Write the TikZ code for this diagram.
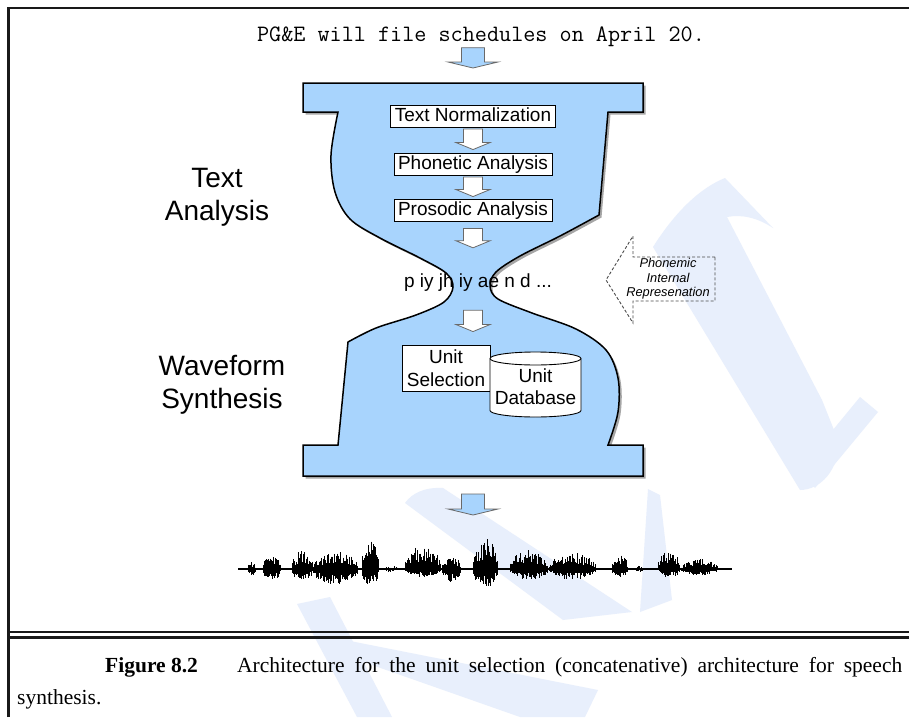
\documentclass[tikz,border=0pt]{standalone}
\usepackage{fontspec}
\setmainfont{Liberation Serif}
\setsansfont{Liberation Sans}
\usetikzlibrary{calc,shadows}
\definecolor{hgblue}{RGB}{168,212,253}
\definecolor{wmblue}{RGB}{232,239,252}
\definecolor{arrgray}{RGB}{105,105,105}
% block arrow: style, start, end, shaft half width, head half width, head length
\newcommand{\blockarr}[6]{%
  \path[#1] let \p1=(#2), \p2=(#3) in
    ({\x1-#4},\y1) -- ({\x1+#4},\y1) -- ({\x1+#4},{\y2+#6}) -- ({\x1+#5},{\y2+#6})
    -- (\x1,\y2) -- ({\x1-#5},{\y2+#6}) -- ({\x1-#4},{\y2+#6}) -- cycle;}
\tikzset{
  wm/.style={fill=wmblue, draw=none},
  bluearr/.style={fill=hgblue, draw=arrgray, line width=0.8},
  whitearr/.style={fill=white, draw=arrgray, line width=0.8},
  proc/.style={draw=black, line width=0.9, fill=white, font=\sffamily\fontsize{19}{21}\selectfont,
    inner xsep=4pt, inner ysep=2pt, text height=14pt, text depth=4pt},
  twoline/.style={inner sep=0pt, align=center, font=\sffamily\fontsize{19}{22.5}\selectfont},
  biglabel/.style={inner sep=0pt, align=center, font=\sffamily\fontsize{28}{33}\selectfont},
  wavestroke/.style={line width=0.95, draw=black},
  frameline/.style={line width=2.3, draw=black!90},
  captext/.style={anchor=base west, inner sep=0pt, font=\fontsize{21.5}{25}\selectfont},
}
\begin{document}
\begin{tikzpicture}[x=1pt,y=-1pt]
\useasboundingbox (0,0) rectangle (909,717);
\fill[white] (0,0) rectangle (909,717);
% watermark
\fill[wm] (653,247) .. controls (675,212) and (700,188) .. (725,178) -- (773,228)
  .. controls (758,218) and (742,214) .. (727,217) -- (822,400) -- (838,440)
  .. controls (840,470) and (820,490) .. (800,490) -- cycle;
\fill[wm] (800,470) -- (860,397) -- (878,412) -- (815,488) -- cycle;
\fill[wm] (405,503) .. controls (412,493) and (425,487) .. (443,488) -- (632,612) -- (563,620) -- cycle;
\fill[wm] (297,604) -- (330,597) -- (392,717) -- (357,717) -- cycle;
\fill[wm] (335,652) -- (345,640) -- (598,690) -- (585,717) -- (520,717) -- cycle;
\fill[wm] (648,489) -- (660,495) -- (672,600) -- (640,612) -- cycle;
% frame
\draw[frameline] (8.5,717) -- (8.5,7.8) -- (909,7.8);
\draw[frameline] (8.5,632) -- (909,632);
\draw[frameline] (8.5,637.5) -- (909,637.5);
% hourglass
\coordinate (hgtop) at (473,83);
\coordinate (hgbot) at (473,476);
\path[draw=black, line width=1.5, fill=hgblue,
  drop shadow={shadow xshift=2.5pt, shadow yshift=-2.5pt, opacity=0.35, fill=black}]
  (303,83) -- (643,83) -- (643,112) -- (608,112) -- (599,215)
  -- plot[smooth, tension=0.55] coordinates {(599,215) (560,236) (520,256) (496,272) (490,286) (498,299)
     (532,313) (576,329) (606,350) (618,378) (618,412) (608,445)}
  -- (643,445) -- (643,476) -- (303,476) -- (303,445) -- (338,445) -- (348,342)
  -- plot[smooth, tension=0.55] coordinates {(348,342) (376,328) (416,315) (444,302) (453,287)
     (446,273) (420,258) (380,238) (350,219) (335,192) (331,155) (338,112)}
  -- (303,112) -- cycle;
% input text
\node[inner sep=0pt, font=\ttfamily\fontsize{23.5}{25}\selectfont, text height=15pt, text depth=4pt] (pge) at (481,36)
  {PG\&E will file schedules on April 20.};
\blockarr{bluearr}{$(pge.south -| hgtop)+(0,2)$}{$(hgtop)+(0,-15)$}{11.5pt}{25pt}{6pt}
% text analysis boxes
\node[proc] (tn) at (473,116) {Text Normalization};
\node[proc] (pa) at (473,164) {Phonetic Analysis};
\node[proc] (pr) at (473,210) {Prosodic Analysis};
\blockarr{whitearr}{$(tn.south)+(0,1.5)$}{$(pa.north)+(0,-3)$}{9.5pt}{17pt}{7pt}
\blockarr{whitearr}{$(pa.south)+(0,1.5)$}{$(pr.north)+(0,-2)$}{9.5pt}{17pt}{7pt}
\node[inner sep=0pt, font=\sffamily\fontsize{19}{21}\selectfont, text height=14pt, text depth=4pt] (ph) at (478,282)
  {p iy jh iy ae n d ...};
\blockarr{whitearr}{$(pr.south)+(0,7)$}{$(ph.north)+(0,-25)$}{9.5pt}{17pt}{7pt}
% waveform synthesis
\node[twoline, draw=black, line width=0.9, fill=white, minimum width=88pt, minimum height=46pt] (us) at (446,368)
  {Unit\\Selection};
\blockarr{whitearr}{$(ph.south -| hgtop)+(0,19)$}{$(us.north -| hgtop)+(0,-13)$}{9.5pt}{17pt}{7pt}
\coordinate (udbc) at (535.5,386.5);
\path[draw=black, line width=0.9, fill=white] let \p0=(udbc) in
  ({\x0-45.5pt},{\y0+28pt}) -- ({\x0-45.5pt},{\y0-24pt})
  arc[start angle=180, end angle=360, x radius=45.5pt, y radius=6.5pt]
  -- ({\x0+45.5pt},{\y0+28pt})
  arc[start angle=0, end angle=180, x radius=45.5pt, y radius=6.5pt] -- cycle;
\draw[line width=0.9] let \p0=(udbc) in ({\x0-45.5pt},{\y0+28pt})
  arc[start angle=180, end angle=360, x radius=45.5pt, y radius=6.5pt];
\node[twoline] (udb) at (udbc) {Unit\\Database};
% side labels
\node[biglabel] (ta) at (217,197) {Text\\Analysis};
\node[biglabel] (ws) at (222,385) {Waveform\\Synthesis};
% phonemic internal representation
\node[inner sep=0pt, align=center, font=\sffamily\itshape\fontsize{12.8}{14.5}\selectfont] (pir) at (668,279)
  {Phonemic\\Internal\\Represenation};
\draw[draw=black!70, line width=0.9, dash pattern=on 3pt off 2pt]
  ($(pir.center)+(47,-22)$) -- ($(pir.center)+(-35,-22)$) -- ($(pir.center)+(-35,-43)$)
  -- ($(pir.center)+(-62,1)$) -- ($(pir.center)+(-35,44)$) -- ($(pir.center)+(-35,22)$)
  -- ($(pir.center)+(47,22)$) -- cycle;
% output waveform
\coordinate (wave) at (473,569);
\blockarr{bluearr}{$(hgbot)+(0,18)$}{$(wave)+(0,-54)$}{11.5pt}{25pt}{6pt}
\pgfmathsetseed{3}
\foreach \xa/\xb/\up/\dn in {247/256/7/7, 262/281/13/11, 291/313/19/12, 312/358/18/16, 361/379/28/17,
   384/398/3/3, 404/441/24/9, 441/461/13/14, 472/498/31/19, 509/548/19/11, 548/596/16/11,
   611/628/14/9, 635/643/4/4, 657/680/18/9, 680/718/10/7}{
  \pgfmathtruncatemacro{\nn}{(\xb-\xa)/1.0}
  \foreach \i in {0,...,\nn}{
    \pgfmathsetmacro{\xx}{\xa+\i*1.0}
    \pgfmathsetmacro{\ee}{abs(sin(180*\i/\nn))^0.45}
    \pgfmathsetmacro{\uu}{\up*\ee*(0.3+0.7*rnd)}
    \pgfmathsetmacro{\dd}{\dn*\ee*(0.35+0.65*rnd)}
    \draw[wavestroke] (\xx,{569-\uu}) -- (\xx,{569+\dd});
  }
}
\draw[line width=2.4] (238,569) -- (732,569);
% caption
\node[captext] (figlab) at (105,672) {\textbf{Figure 8.2}};
\node[captext] (cap1) at (237,672)
  {\makebox[665pt][s]{Architecture for the unit selection (concatenative) architecture for speech}};
\node[captext] (cap2) at (17,704) {synthesis.};
\end{tikzpicture}
\end{document}
